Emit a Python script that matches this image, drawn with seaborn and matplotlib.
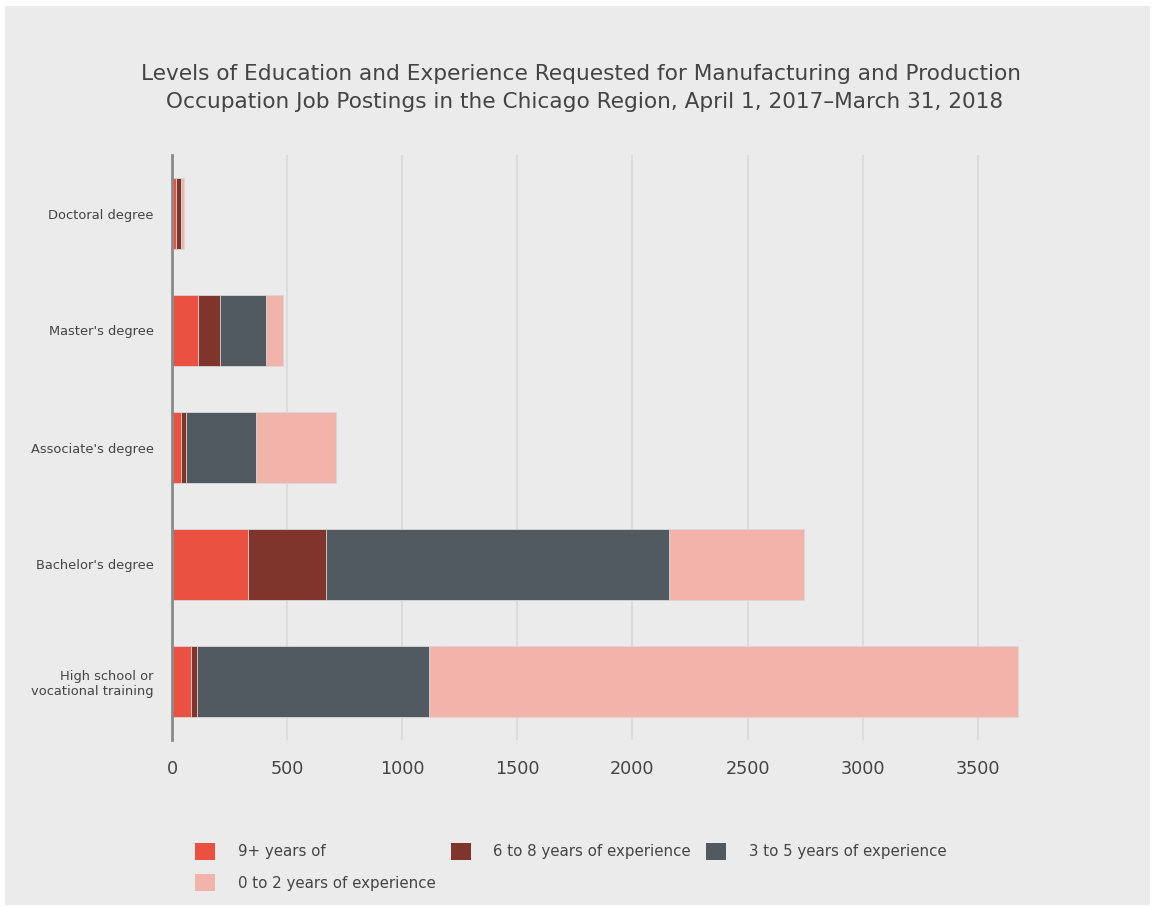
import numpy as np
import matplotlib
matplotlib.use("Agg")
import matplotlib.pyplot as plt
import matplotlib.patches as mpatches
import seaborn as sns

categories = ["Doctoral degree", "Master's degree", "Associate's degree",
              "Bachelor's degree", "High school or\nvocational training"]
series_names = ["9+ years of", "6 to 8 years of experience",
                "3 to 5 years of experience", "0 to 2 years of experience"]
exp_9plus = [17, 112, 38, 332, 82]
exp_6to8 = [20, 96, 22, 335, 27]
exp_3to5 = [3, 201, 306, 1491, 1008]
exp_0to2 = [12, 72, 347, 585, 2559]
colors = ["#ea5140", "#7f342c", "#525a61", "#f2b3ab"]
x_ticks = [0, 500, 1000, 1500, 2000, 2500, 3000, 3500]

BG = "#ebebeb"
sns.set_theme(style="white")
plt.rcParams["font.family"] = ["DejaVu Sans"]

fig = plt.figure(figsize=(11.55, 9.07), dpi=100)
fig.patch.set_facecolor("white")
fig.patches.append(mpatches.Rectangle((5 / 1155, 1 - 905 / 907), 1145 / 1155, 899 / 907,
                                      transform=fig.transFigure, facecolor=BG,
                                      edgecolor="none", zorder=-10))

ax = fig.add_axes([172 / 1155, 1 - 740 / 907, (1063 - 172) / 1155, (740 - 155) / 907])
ax.set_facecolor(BG)

series = [exp_9plus, exp_6to8, exp_3to5, exp_0to2]
cum = np.cumsum(np.array(series, dtype=float), axis=0)
# draw cumulative totals from the largest down so the segments appear stacked
for i in range(len(series) - 1, -1, -1):
    sns.barplot(x=cum[i], y=categories, orient="h", color=colors[i], saturation=1,
                width=0.6, ax=ax, edgecolor="#d9d9d9", linewidth=0.6, zorder=3)

ax.set_xlim(0, 3870)
ax.set_ylim(4.5, -0.5)
ax.set_xticks(x_ticks)
ax.set_xticklabels([str(t) for t in x_ticks], fontsize=12.7, color="#444444")
ax.xaxis.grid(True, color="#dcdcdc", linewidth=1.5, zorder=0)
ax.set_axisbelow(True)
ax.tick_params(axis="x", length=0, pad=14.5)
ax.tick_params(axis="y", length=0, pad=13, labelsize=9.4, labelcolor="#444444")
for lab in ax.get_yticklabels():
    lab.set_multialignment("right")
for s in ["top", "right", "bottom"]:
    ax.spines[s].set_visible(False)
ax.spines["left"].set_color("#8a8a8a")
ax.spines["left"].set_linewidth(2)
ax.spines["left"].set_zorder(5)
ax.set_xlabel("")
ax.set_ylabel("")

fig.text(0.503, 1 - 88 / 907,
         "Levels of Education and Experience Requested for Manufacturing and Production\n"
         " Occupation Job Postings in the Chicago Region, April 1, 2017\u2013March 31, 2018",
         ha="center", va="center", fontsize=15.6, color="#444444", linespacing=1.55)

handles = [mpatches.Patch(facecolor=colors[i], edgecolor="none", label=series_names[i])
           for i in range(4)]
order = [0, 3, 1, 2]
leg = fig.legend([handles[i] for i in order], [series_names[i] for i in order],
                 ncol=3, loc="upper left", bbox_to_anchor=(195 / 1155, 1 - 843 / 907),
                 frameon=False, fontsize=10.8, handlelength=1.35, handleheight=1.35,
                 handletextpad=1.5, columnspacing=1.0, labelspacing=0.95,
                 labelcolor="#444444", borderpad=0, borderaxespad=0)

fig.savefig("out.png", dpi=100, facecolor=fig.get_facecolor())
